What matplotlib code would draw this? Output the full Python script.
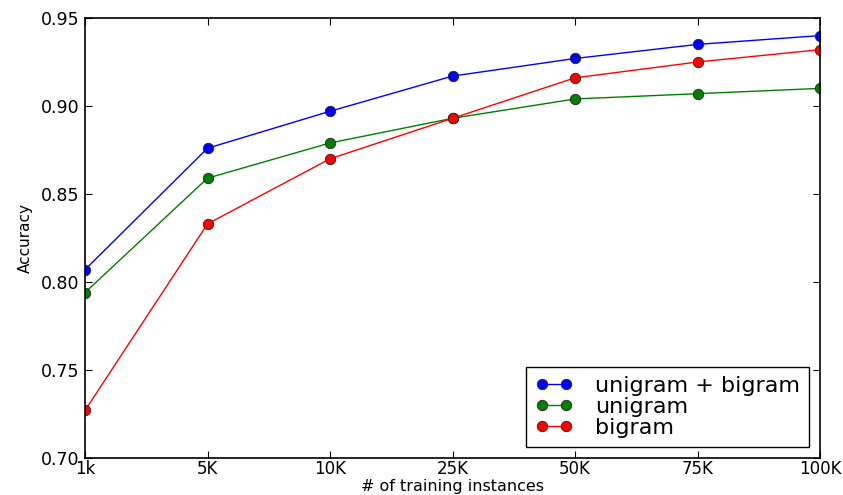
import matplotlib
matplotlib.use("Agg")
import matplotlib.pyplot as plt
import numpy as np

# Data
sizes = ["1k", "5K", "10K", "25K", "50K", "75K", "100K"]
uni_bi = [0.807, 0.876, 0.897, 0.917, 0.927, 0.935, 0.940]
unigram = [0.794, 0.859, 0.879, 0.893, 0.904, 0.907, 0.910]
bigram = [0.727, 0.833, 0.870, 0.893, 0.916, 0.925, 0.932]
y_ticks = [0.70, 0.75, 0.80, 0.85, 0.90, 0.95]

fig = plt.figure(figsize=(8.43, 4.95), dpi=100)
ax = fig.add_axes([85 / 843, 1 - 458 / 495, (820 - 85) / 843, (458 - 18) / 495])

x = np.arange(len(sizes))
style = dict(marker="o", markersize=7.5, markeredgecolor="#222222", markeredgewidth=0.6, linewidth=1.0)
ax.plot(x, uni_bi, color="#0000ff", label="unigram + bigram", **style)
ax.plot(x, unigram, color="#007f00", label="unigram", **style)
ax.plot(x, bigram, color="#ff0000", label="bigram", **style)

ax.set_xlim(0, len(sizes) - 1)
ax.set_ylim(0.70, 0.95)
ax.set_xticks(x)
ax.set_xticklabels(sizes)
ax.set_yticks(y_ticks)
ax.set_yticklabels([f"{v:.2f}" for v in y_ticks])
ax.tick_params(direction="in", top=True, right=True, length=5, labelsize=12.5, pad=4)
ax.tick_params(axis="x", labelsize=12, pad=1.5)

for s in ax.spines.values():
    s.set_linewidth(1.2)

ax.set_xlabel("# of training instances", fontsize=11.5, va="center")
ax.xaxis.set_label_coords(0.5, -0.064)
ax.set_ylabel("Accuracy", fontsize=11, labelpad=6)

leg = ax.legend(loc="lower right", numpoints=2, fontsize=16, fancybox=False,
                framealpha=1, edgecolor="black", borderaxespad=0.5,
                handlelength=1.7, handletextpad=1.0, labelspacing=0.05)
leg.get_frame().set_linewidth(1.0)

fig.savefig("out.png", dpi=100)
